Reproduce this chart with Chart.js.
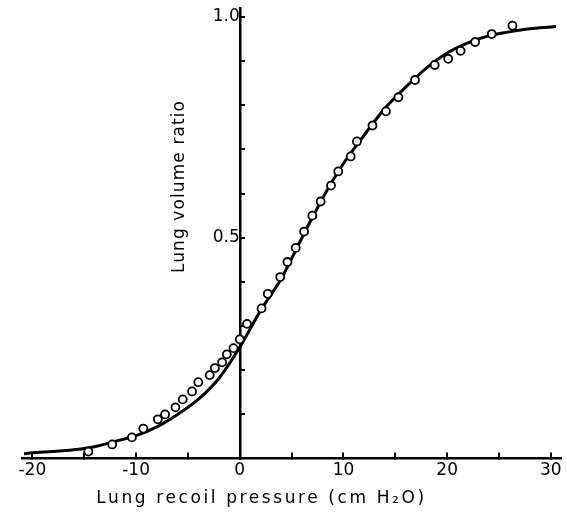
<!DOCTYPE html>
<html>
<head>
<meta charset="utf-8">
<script src="https://cdn.jsdelivr.net/npm/chart.js@4/dist/chart.umd.min.js"></script>
<style>
  html, body { margin: 0; padding: 0; background: #fff; }
  #wrap { width: 567px; height: 517px; position: relative; }
</style>
</head>
<body>
<div id="wrap"><canvas id="viz"></canvas></div>
<script>
// measured points (open circles)
const pointX = [-14.6, -12.3, -10.4, -9.3, -7.9, -7.2, -6.2, -5.5, -4.6, -4.0,
  -2.9, -2.4, -1.7, -1.25, -0.6, 0.0, 0.7, 2.1, 2.7, 3.9,
  4.6, 5.4, 6.2, 7.0, 7.8, 8.8, 9.5, 10.7, 11.3, 12.8,
  14.1, 15.3, 16.9, 18.8, 20.1, 21.3, 22.7, 24.3, 26.3];
const pointY = [0.016, 0.032, 0.048, 0.068, 0.089, 0.10, 0.116, 0.134, 0.152, 0.173,
  0.189, 0.205, 0.218, 0.236, 0.25, 0.27, 0.305, 0.34, 0.373, 0.411,
  0.445, 0.477, 0.514, 0.55, 0.582, 0.618, 0.65, 0.684, 0.718, 0.754,
  0.786, 0.818, 0.857, 0.891, 0.905, 0.923, 0.943, 0.961, 0.98];

// fitted curve (solid line)
const curveX = [-20.8, -20, -18, -16, -15, -14, -12, -10, -8, -6, -4, -2, 0, 2, 4, 6,
  8, 10, 12, 14, 16, 18, 20, 22, 24, 26, 28, 30, 30.5];
const curveY = [0.011, 0.013, 0.016, 0.020, 0.023, 0.027, 0.039, 0.052, 0.072, 0.100, 0.134, 0.182, 0.252, 0.335, 0.407, 0.5,
  0.59, 0.668, 0.732, 0.793, 0.841, 0.884, 0.918, 0.941, 0.957, 0.966, 0.973, 0.977, 0.978];

// axes
const xTicks = [-20, -15, -10, -5, 0, 5, 10, 15, 20, 25, 30];
const xLabels = [-20, -10, 0, 10, 20, 30];
const yTicks = [0.1, 0.2, 0.3, 0.4, 0.5, 0.6, 0.7, 0.8, 0.9, 1.0];
const yLabels = [0.5, 1.0];
const xTitle = 'Lung recoil pressure (cm H\u2082O)';
const yTitle = 'Lung volume ratio';

const FONT = "'DejaVu Sans', sans-serif";

const titlesPlugin = {
  id: 'titles',
  beforeDraw(chart) {
    const c = chart.ctx;
    c.save();
    c.fillStyle = '#fff';
    c.fillRect(0, 0, chart.width, chart.height);
    c.restore();
  },
  afterDraw(chart) {
    const c = chart.ctx;
    const xs = chart.scales.x, ys = chart.scales.y;
    c.save();
    c.fillStyle = '#000';
    c.font = '17px ' + FONT;
    c.textAlign = 'center';
    c.textBaseline = 'middle';
    // x title under the axis
    c.letterSpacing = '2.6px';
    c.fillText(xTitle, xs.getPixelForValue(2.1), chart.chartArea.bottom + 40);
    // y title, left of the y axis, reading upwards
    c.letterSpacing = '1.1px';
    c.translate(xs.getPixelForValue(0) - 60, ys.getPixelForValue(0.616));
    c.rotate(-Math.PI / 2);
    c.fillText(yTitle, 0, 0);
    c.restore();
  }
};

// drop the label overflow padding so the plot fills the frame
const noPad = s => { s.paddingLeft = 0; s.paddingRight = 0; s.paddingTop = 0; s.paddingBottom = 0; };

const ctx = document.getElementById('viz');

new Chart(ctx, {
  type: 'scatter',
  data: {
    datasets: [
      {
        label: 'Measured',
        data: pointX.map((x, i) => ({ x: x, y: pointY[i] })),
        showLine: false,
        pointRadius: 4,
        pointHoverRadius: 4,
        pointBorderWidth: 1.8,
        pointBorderColor: '#000',
        pointBackgroundColor: '#fff',
        order: 0
      },
      {
        label: 'Curve',
        type: 'line',
        data: curveX.map((x, i) => ({ x: x, y: curveY[i] })),
        borderColor: '#000',
        borderWidth: 3,
        pointRadius: 0,
        cubicInterpolationMode: 'monotone',
        fill: false,
        order: 1
      }
    ]
  },
  options: {
    responsive: true,
    maintainAspectRatio: false,
    animation: false,
    layout: { padding: { left: 22, right: 2, top: 8, bottom: 28 } },
    plugins: {
      legend: { display: false },
      tooltip: { enabled: false }
    },
    scales: {
      x: {
        type: 'linear',
        min: -21,
        max: 31,
        afterBuildTicks: s => { s.ticks = xTicks.map(v => ({ value: v })); },
        afterFit: noPad,
        border: { display: true, color: '#000', width: 2.5 },
        grid: { drawOnChartArea: false, drawTicks: true, tickLength: -6, color: '#000', lineWidth: 2 },
        ticks: {
          padding: 8,
          color: '#000',
          font: { family: FONT, size: 17 },
          maxRotation: 0,
          autoSkip: false,
          callback: v => xLabels.includes(v) ? String(v) : ''
        }
      },
      y: {
        type: 'linear',
        position: { x: 0 },
        min: 0,
        max: 1.02,
        afterBuildTicks: s => { s.ticks = yTicks.map(v => ({ value: v })); },
        afterFit: noPad,
        border: { display: true, color: '#000', width: 2.5 },
        grid: { drawOnChartArea: false, drawTicks: true, tickLength: -6, color: '#000', lineWidth: 2 },
        ticks: {
          padding: 15,
          color: '#000',
          font: { family: FONT, size: 17 },
          autoSkip: false,
          callback: v => yLabels.some(l => Math.abs(l - v) < 1e-6) ? v.toFixed(1) : ''
        }
      }
    }
  },
  plugins: [titlesPlugin]
});
</script>
</body>
</html>
